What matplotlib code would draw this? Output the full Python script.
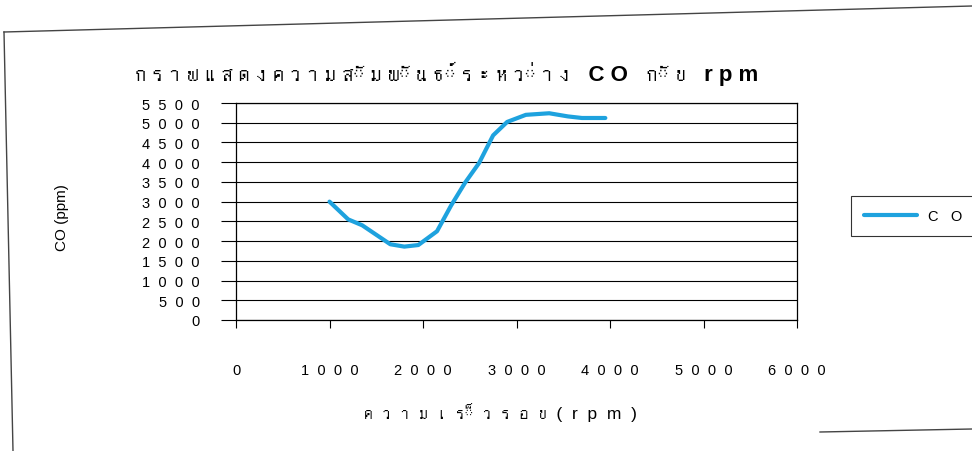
import matplotlib
matplotlib.use("Agg")
import matplotlib.pyplot as plt
from matplotlib import font_manager, ft2font
from matplotlib.lines import Line2D

# data
rpm = [1000, 1200, 1350, 1650, 1800, 1950, 2150, 2300, 2450, 2600, 2750,
       2900, 3100, 3350, 3550, 3700, 3950]
co = [3000, 2550, 2400, 1920, 1860, 1900, 2250, 2900, 3480, 3980, 4680,
      5020, 5200, 5240, 5160, 5120, 5120]
x_ticks = [0, 1000, 2000, 3000, 4000, 5000, 6000]
y_ticks = list(range(0, 5501, 500))
title = "กราฟแสดงความสัมพันธ์ระหว่าง CO กับ rpm"
x_label = "ความเร็วรอบ(rpm)"
y_label = "CO (ppm)"
series_name = "CO"


def thai_families():
    names = []
    for path in font_manager.findSystemFonts():
        try:
            f = ft2font.FT2Font(path)
            if 0x0E01 in f.get_charmap():
                n = font_manager.FontProperties(fname=path).get_name()
                if n not in names:
                    names.append(n)
        except Exception:
            pass
    return names


thai = thai_families()
plt.rcParams["font.family"] = ["Liberation Sans"] + thai + ["DejaVu Sans"]


def spaced(s, gap=" "):
    # the print spreads every glyph apart; keep thai marks on their base letter
    out = ""
    for ch in s:
        if ch in "\u0e31\u0e34\u0e35\u0e36\u0e37\u0e38\u0e39\u0e47\u0e48\u0e49\u0e4a\u0e4b\u0e4c" or not out:
            out += ch
        else:
            out += gap + ch
    return out


fig = plt.figure(figsize=(9.72, 4.52), dpi=100)
W, H = 972, 452
ax = fig.add_axes([236 / W, 1 - 321 / H, 561 / W, 217 / H])

ax.plot(rpm, co, color="#1ea2de", lw=3, solid_capstyle="round",
        solid_joinstyle="round", label=spaced(series_name, "   "))
ax.set_xlim(0, 6000)
ax.set_ylim(0, 5500)
ax.set_xticks(x_ticks)
ax.set_xticklabels([spaced(str(v), "  ") for v in x_ticks], fontsize=10.5)
ax.set_yticks(y_ticks)
ax.set_yticklabels([spaced(str(v), "  ") for v in y_ticks], fontsize=10.5)
ax.tick_params(axis="y", length=11, width=0.8, pad=15, direction="out")
ax.tick_params(axis="x", length=6, width=0.8, pad=25, direction="out")
ax.grid(axis="y", color="black", lw=0.8)
for s in ax.spines.values():
    s.set_linewidth(0.9)

fig.text(62 / W, 1 - 218 / H, y_label, rotation=90, ha="center", va="center",
         fontsize=11)
fig.text(500 / W, 1 - 413 / H, spaced(x_label, "  "), ha="center",
         va="center", fontsize=12.5)
fig.text(135 / W, 1 - 74 / H, spaced(title, " "), ha="left", va="center",
         fontsize=16, fontweight="bold")

leg = fig.legend(loc="upper left", bbox_to_anchor=(851 / W, 1 - 197 / H),
                 frameon=True, fancybox=False, handlelength=3.6,
                 borderpad=0.9, borderaxespad=0, fontsize=10.5,
                 handletextpad=0.8)
leg.get_frame().set_edgecolor("black")
leg.get_frame().set_linewidth(0.8)

# outer chart border (scan is slightly tilted)
fig.add_artist(Line2D([4 / W, 1], [1 - 33 / H, 1 - 7 / H], color="#444444", lw=1))
fig.add_artist(Line2D([4 / W, 13 / W], [1 - 33 / H, 0], color="#444444", lw=1))
fig.add_artist(Line2D([820 / W, 1], [1 - 433 / H, 1 - 430 / H], color="#444444", lw=1))

fig.savefig("out.png", dpi=100)
